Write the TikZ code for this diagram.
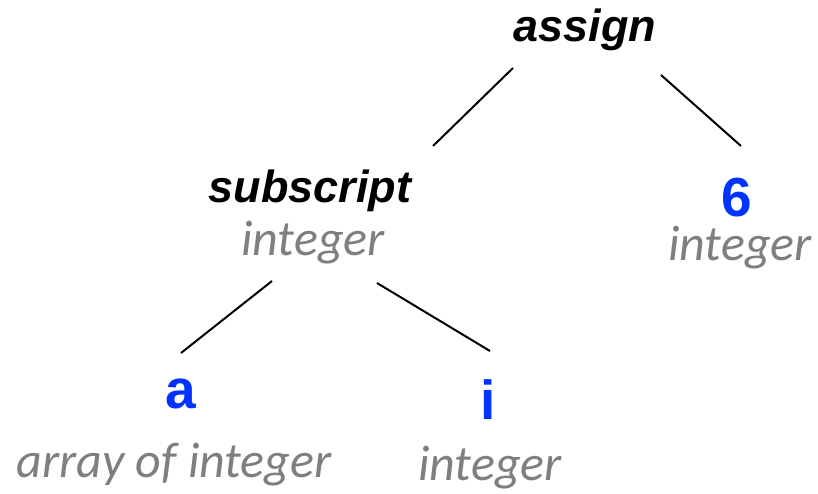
\documentclass[tikz,border=0pt]{standalone}
\usepackage{fontspec}
\setmainfont{Liberation Sans}
\newfontfamily\opfont{Liberation Sans}[BoldItalicFont={* Bold Italic}]
\newfontfamily\typefont{Carlito}
\newfontfamily\leaffont{Liberation Sans}
\definecolor{leafblue}{HTML}{0033FF}
\definecolor{typegrey}{HTML}{7F7F7F}
\tikzset{
  opnode/.style={inner sep=0pt, font=\opfont\bfseries\itshape\fontsize{45}{54}\selectfont},
  leafnode/.style={inner sep=0pt, text=leafblue, font=\leaffont\bfseries\fontsize{55}{66}\selectfont},
  typenode/.style={inner sep=0pt, text=typegrey, font=\typefont\itshape\fontsize{50}{60}\selectfont},
  edge/.style={line width=2pt, black}
}
\begin{document}
\begin{tikzpicture}[x=1pt,y=-1pt]
\useasboundingbox (0,0) rectangle (818,494);
\node[opnode] (assign) at (585,30) {assign};
\node[opnode] (subscript) at (310,191) {subscript};
\node[typenode] (subtype) at (313,243) {integer};
\node[leafnode] (six) at (737,198) {6};
\node[typenode] (sixtype) at (740,248) {integer};
\node[leafnode] (a) at (181,394) {a};
\node[typenode] (atype) at (174,465) {array of integer};
\node[leafnode] (i) at (488,400) {i};
\node[typenode] (itype) at (490,468) {integer};
\coordinate (assignL) at (513,68);
\coordinate (subscriptT) at (433,146);
\coordinate (assignR) at (661,75);
\coordinate (sixT) at (741,146);
\coordinate (subL) at (272,281);
\coordinate (aT) at (181,353);
\coordinate (subR) at (377,283);
\coordinate (iT) at (490,351);
\draw[edge] (assignL) -- (subscriptT);
\draw[edge] (assignR) -- (sixT);
\draw[edge] (subL) -- (aT);
\draw[edge] (subR) -- (iT);
\end{tikzpicture}
\end{document}
